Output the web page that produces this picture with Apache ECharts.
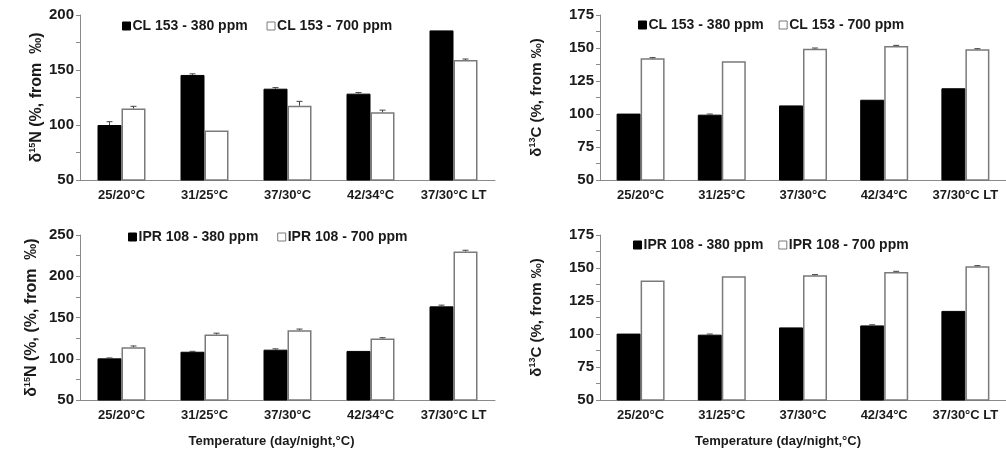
<!DOCTYPE html>
<html>
<head>
<meta charset="utf-8">
<script src="https://cdn.jsdelivr.net/npm/echarts@6/dist/echarts.min.js"></script>
<style>
  html, body { margin: 0; padding: 0; background: #fff; }
  #chart { width: 1006px; height: 455px; }
</style>
</head>
<body>
<div id="chart"></div>
<script>
// categories and values
const categories = ["25/20°C", "31/25°C", "37/30°C", "42/34°C", "37/30°C LT"];

const cl153N380 = [100, 145.5, 133, 128.5, 186];
const cl153N380Err = [3, 1, 1, 1, 0];
const cl153N700 = [115, 95, 117.5, 111.5, 159];
const cl153N700Err = [2, 0, 4, 2, 1];

const cl153C380 = [100.3, 99.5, 106.5, 110.8, 119.5];
const cl153C380Err = [0, 0.5, 0, 0, 0];
const cl153C700 = [142.2, 140, 149.5, 151.5, 149];
const cl153C700Err = [0.5, 0, 0.5, 0.5, 0.5];

const ipr108N380 = [100.5, 108.5, 111, 109.5, 163.5];
const ipr108N380Err = [0.5, 0.5, 1, 0, 1.5];
const ipr108N700 = [114, 129.5, 134.5, 124.5, 230];
const ipr108N700Err = [1.5, 1.5, 1.5, 1, 1.5];

const ipr108C380 = [100.3, 99.5, 105, 106.5, 117.5];
const ipr108C380Err = [0, 0.5, 0, 0.5, 0];
const ipr108C700 = [140.5, 143.8, 144.5, 147, 151.3];
const ipr108C700Err = [0, 0, 0.5, 0.5, 0.5];

const FONT = "Liberation Sans, Arial, sans-serif";
const AXIS = "#8a8a8a";
const TXT = "#1a1a1a";
const BW = 24;

const chart = echarts.init(document.getElementById("chart"), null, { renderer: "canvas" });

const grids = [
  { left: 80, top: 15, width: 415, height: 165 },
  { left: 600, top: 15, width: 409, height: 165 },
  { left: 80, top: 235, width: 415, height: 165 },
  { left: 600, top: 235, width: 409, height: 165 },
];

function xAxis(i, withName, shift) {
  return {
    type: "category", gridIndex: i, data: categories,
    axisLine: { lineStyle: { color: AXIS, width: 1 } },
    axisTick: { length: 4, lineStyle: { color: AXIS } },
    axisLabel: { interval: 0, color: TXT, fontFamily: FONT, fontWeight: "bold", fontSize: 13, margin: 9 },
    name: withName ? "Temperature (day/night,°C)" : "",
    nameLocation: "middle", nameGap: 35,
    nameTextStyle: { color: TXT, fontFamily: FONT, fontWeight: "bold", fontSize: 13,
                     padding: [0, shift, 0, 0] },
  };
}

function yAxis(i, min, max, step, iso, gap, fs) {
  return {
    type: "value", gridIndex: i, min: min, max: max, interval: step,
    splitLine: { show: false },
    axisLine: { show: true, lineStyle: { color: AXIS, width: 1 } },
    axisTick: { show: true, length: 4, lineStyle: { color: AXIS } },
    minorTick: { show: true, splitNumber: 2, length: 4, lineStyle: { color: AXIS } },
    axisLabel: { color: TXT, fontFamily: FONT, fontWeight: "bold", fontSize: 15, margin: 6 },
    name: iso,
    nameLocation: "middle", nameGap: gap, nameRotate: 90,
    nameTextStyle: {
      color: TXT, fontFamily: FONT, fontWeight: "bold", fontSize: fs,
      rich: {
        a: { fontFamily: FONT, fontWeight: "bold", fontSize: fs, color: TXT, lineHeight: fs + 2 },
        s: { fontFamily: FONT, fontWeight: "bold", fontSize: 9, color: TXT, lineHeight: fs + 2,
             verticalAlign: "top", padding: [0, 0, 6, 0] },
      },
    },
  };
}

function bars(i, name, vals, black) {
  return {
    type: "bar", name: name, xAxisIndex: i, yAxisIndex: i, data: vals,
    barWidth: BW, barGap: "0%",
    itemStyle: black ? { color: "#000", borderColor: "#000", borderWidth: 1 }
                     : { color: "#fff", borderColor: "#7a7a7a", borderWidth: 1.5 },
    silent: true,
  };
}

function errs(i, vals, e, side) {
  return {
    type: "custom", xAxisIndex: i, yAxisIndex: i, silent: true, z: 5,
    data: vals.map((v, k) => [k, v, v + e[k]]),
    renderItem: (params, api) => {
      if (api.value(2) - api.value(1) <= 0) return null;
      const p0 = api.coord([api.value(0), api.value(1)]);
      const p1 = api.coord([api.value(0), api.value(2)]);
      const x = p0[0] + side * BW / 2;
      return {
        type: "group",
        children: [
          { type: "line", shape: { x1: x, y1: p0[1], x2: x, y2: p1[1] },
            style: { stroke: "#444", lineWidth: 1 } },
          { type: "line", shape: { x1: x - 3, y1: p1[1], x2: x + 3, y2: p1[1] },
            style: { stroke: "#444", lineWidth: 1 } },
        ],
      };
    },
  };
}

function legend(names, left, top) {
  return {
    data: names, left: left, top: top, orient: "horizontal",
    itemWidth: 8, itemHeight: 8, itemGap: 15,
    icon: "rect", selectedMode: false,
    itemStyle: { borderWidth: 1 },
    textStyle: { color: TXT, fontFamily: FONT, fontWeight: "bold", fontSize: 14, padding: [0, 0, 0, -3] },
  };
}

const n15 = "{a|δ}{s|15}{a|N (%, from  ‰)}";
const n15b = "{a|δ}{s|15}{a|N (%, (%, from  ‰)}";
const c13 = "{a|δ}{s|13}{a|C (%, from ‰)}";

chart.setOption({
  animation: false,
  grid: grids,
  xAxis: [xAxis(0, false, 0), xAxis(1, false, 0), xAxis(2, true, 32), xAxis(3, true, 50)],
  yAxis: [
    yAxis(0, 50, 200, 50, n15, 33, 16),
    yAxis(1, 50, 175, 25, c13, 55, 15),
    yAxis(2, 50, 250, 50, n15b, 39, 16),
    yAxis(3, 50, 175, 25, c13, 55, 15),
  ],
  legend: [
    legend(["CL 153 - 380 ppm ", "CL 153 - 700 ppm "], 117, 14),
    legend(["CL 153 - 380 ppm", "CL 153 - 700 ppm"], 633, 13),
    legend(["IPR 108 - 380 ppm ", "IPR 108 - 700 ppm "], 123, 225),
    legend(["IPR 108 - 380 ppm", "IPR 108 - 700 ppm"], 628, 233),
  ],
  series: [
    bars(0, "CL 153 - 380 ppm ", cl153N380, true),
    bars(0, "CL 153 - 700 ppm ", cl153N700, false),
    errs(0, cl153N380, cl153N380Err, -1),
    errs(0, cl153N700, cl153N700Err, 1),

    bars(1, "CL 153 - 380 ppm", cl153C380, true),
    bars(1, "CL 153 - 700 ppm", cl153C700, false),
    errs(1, cl153C380, cl153C380Err, -1),
    errs(1, cl153C700, cl153C700Err, 1),

    bars(2, "IPR 108 - 380 ppm ", ipr108N380, true),
    bars(2, "IPR 108 - 700 ppm ", ipr108N700, false),
    errs(2, ipr108N380, ipr108N380Err, -1),
    errs(2, ipr108N700, ipr108N700Err, 1),

    bars(3, "IPR 108 - 380 ppm", ipr108C380, true),
    bars(3, "IPR 108 - 700 ppm", ipr108C700, false),
    errs(3, ipr108C380, ipr108C380Err, -1),
    errs(3, ipr108C700, ipr108C700Err, 1),
  ],
});
</script>
</body>
</html>
